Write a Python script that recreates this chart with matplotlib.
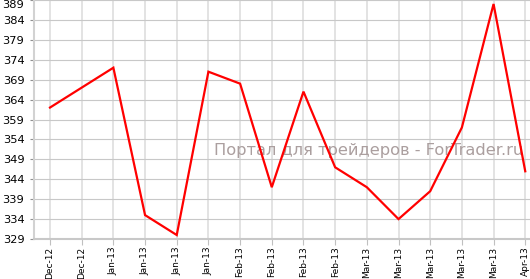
import matplotlib
matplotlib.use("Agg")
import matplotlib.pyplot as plt
import numpy as np

labels = ["Dec-12", "Dec-12", "Jan-13", "Jan-13", "Jan-13", "Jan-13",
          "Feb-13", "Feb-13", "Feb-13", "Feb-13",
          "Mar-13", "Mar-13", "Mar-13", "Mar-13", "Mar-13", "Apr-13"]
values = [362, 367, 372, 335, 330, 371, 368, 342, 366, 347,
          342, 334, 341, 357, 388, 346]
yticks = list(range(329, 390, 5))

fig = plt.figure(figsize=(5.3, 2.79), dpi=100)
ax = fig.add_axes([34/530, 40/279, 496/530, 239/279])

x = np.arange(len(values))
ax.plot(x, values, color="#ff0000", lw=1.6, zorder=3, solid_joinstyle="miter")

ax.set_xlim(-0.505, 15.15)
ax.set_ylim(329, 389)
ax.set_xticks(x)
ax.set_xticklabels(labels, rotation=90, fontsize=6.5)
ax.set_yticks(yticks)
ax.set_yticklabels([str(v) for v in yticks], fontsize=8.2)
# top label sits inside the figure like in the source
ax.get_yticklabels()[-1].set_va("top")

ax.yaxis.grid(True, color="#c8c8c8", lw=0.8)
ax.xaxis.grid(True, color="#dedede", lw=1.2)
ax.set_axisbelow(True)

for s in ["top", "right"]:
    ax.spines[s].set_visible(False)
ax.spines["left"].set_color("#d2d2d2")
ax.spines["left"].set_linewidth(1.5)
ax.spines["bottom"].set_color("#c8c8c8")
ax.spines["bottom"].set_linewidth(1.5)
ax.tick_params(axis="y", length=3, color="#909090", pad=4)
ax.tick_params(axis="x", length=4, color="#c0c0c0", pad=1.5)

ax.text(523, 279 - 150, "Портал для трейдеров - ForTrader.ru", transform=None,
        fontsize=11.7, color="#ab9f9f", ha="right", va="center", zorder=2)

fig.savefig("out.png", dpi=100)
